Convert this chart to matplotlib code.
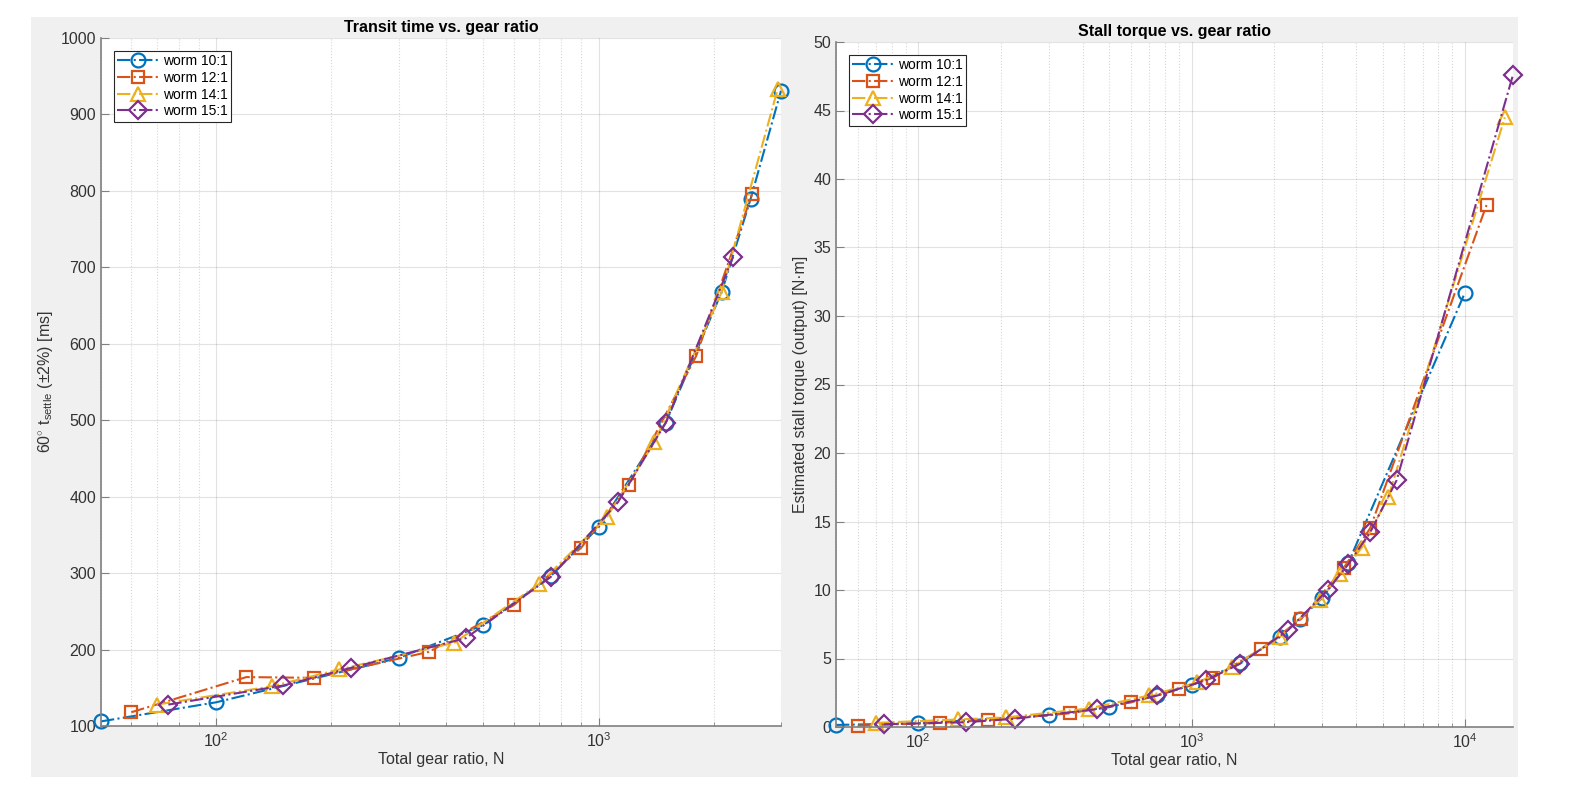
import matplotlib
matplotlib.use('Agg')
import matplotlib.pyplot as plt
from matplotlib.patches import Rectangle
from matplotlib.ticker import LogLocator, LogFormatterMathtext, NullFormatter

plt.rcParams['font.family'] = ['Liberation Sans', 'DejaVu Sans']
plt.rcParams['mathtext.fontset'] = 'custom'
plt.rcParams['mathtext.rm'] = 'Liberation Sans'
plt.rcParams['mathtext.it'] = 'Liberation Sans'

labels = ['worm 10:1', 'worm 12:1', 'worm 14:1', 'worm 15:1']
colors = ['#0072BD', '#D95319', '#EDB120', '#7E2F8E']
markers = ['o', 's', '^', 'D']

# transit time (left panel)
n10_t = [50, 100, 300, 500, 750, 1000, 1500, 2100, 2500, 3000]
t10 = [106, 131, 189, 232, 296, 360, 497, 668, 790, 931]
n12_t = [60, 120, 180, 360, 600, 900, 1200, 1800, 2520]
t12 = [118, 164, 163, 197, 258, 333, 415, 584, 796]
n14_t = [70, 140, 210, 420, 700, 1050, 1400, 2100, 2940]
t14 = [128, 152, 174, 209, 286, 373, 471, 668, 933]
n15_t = [75, 150, 225, 450, 750, 1125, 1500, 2250]
t15 = [128, 153, 176, 215, 295, 393, 497, 714]

# stall torque (right panel)
n10_s = [50, 100, 300, 500, 750, 1000, 1500, 2100, 2500, 3000, 3750, 10000]
s10 = [0.15, 0.27, 0.85, 1.45, 2.3, 3.05, 4.65, 6.55, 7.9, 9.4, 12.0, 31.7]
n12_s = [60, 120, 180, 360, 600, 900, 1200, 1800, 2520, 3600, 4500, 12000]
s12 = [0.1, 0.3, 0.5, 1.0, 1.8, 2.8, 3.6, 5.7, 7.9, 11.6, 14.5, 38.1]
n14_s = [70, 140, 210, 420, 700, 1050, 1400, 2100, 2940, 3500, 4200, 5250, 14000]
s14 = [0.3, 0.55, 0.7, 1.35, 2.3, 3.25, 4.35, 6.55, 9.25, 11.2, 13.1, 16.8, 44.5]
n15_s = [75, 150, 225, 450, 750, 1125, 1500, 2250, 3150, 3750, 4500, 5625, 15000]
s15 = [0.2, 0.35, 0.6, 1.3, 2.3, 3.4, 4.6, 7.05, 10.0, 11.9, 14.2, 18.0, 47.6]

W, H = 1571, 786
fig = plt.figure(figsize=(W / 100, H / 100), dpi=100, facecolor='white')
fig.patches.append(Rectangle((31 / W, 9 / H), 1487 / W, 760 / H, transform=fig.transFigure,
                             facecolor='#f0f0f0', edgecolor='none', zorder=-10))

def style(ax, xlim, ylim, ystep):
    ax.set_xscale('log')
    ax.set_xlim(*xlim)
    ax.set_ylim(*ylim)
    ax.set_yticks(range(ylim[0], ylim[1] + 1, ystep))
    ax.xaxis.set_major_locator(LogLocator(base=10))
    ax.xaxis.set_major_formatter(LogFormatterMathtext())
    ax.xaxis.set_minor_locator(LogLocator(base=10, subs=range(2, 10)))
    ax.xaxis.set_minor_formatter(NullFormatter())
    ax.grid(True, which='major', color='#262626', alpha=0.13, linewidth=0.8)
    ax.grid(True, which='minor', axis='x', color='#262626', alpha=0.18, linestyle=':', linewidth=0.8)
    ax.set_axisbelow(True)
    for s in ['top', 'right']:
        ax.spines[s].set_visible(False)
    for s in ['left', 'bottom']:
        ax.spines[s].set_color('#808080')
        ax.spines[s].set_linewidth(1.2)
    ax.tick_params(which='both', direction='in', colors='#808080', labelcolor='#333333',
                   labelsize=11.5, top=False, right=False)
    ax.tick_params(which='major', length=6)
    ax.tick_params(which='minor', length=3)

def draw(ax, xs, ys):
    for x, y, c, m, lab in zip(xs, ys, colors, markers, labels):
        ms = 10 if m in ('o', '^') else 9
        ax.plot(x, y, linestyle='-.', color=c, marker=m, markersize=ms, markerfacecolor='none',
                markeredgewidth=1.6, linewidth=1.5, label=lab, clip_on=False)
    leg = ax.legend(loc='upper left', fontsize=10, handlelength=3.0, fancybox=False,
                    framealpha=1, edgecolor='#262626', borderpad=0.25, labelspacing=0.2,
                    handletextpad=0.3, borderaxespad=0.9)
    leg.get_frame().set_linewidth(0.8)

ax1 = fig.add_axes([101 / W, 60 / H, 680 / W, 688 / H])
draw(ax1, [n10_t, n12_t, n14_t, n15_t], [t10, t12, t14, t15])
style(ax1, (50, 3000), (100, 1000), 100)
ax1.set_title('Transit time vs. gear ratio', fontsize=11.5, fontweight='bold', pad=4)
ax1.set_xlabel('Total gear ratio, N', fontsize=11.5, color='#333333', labelpad=2)
ax1.set_ylabel(r'60$^{\circ}$ t$_{\mathrm{settle}}$ (±2%) [ms]', fontsize=11.5, color='#333333')

ax2 = fig.add_axes([836 / W, 59 / H, 677 / W, 685 / H])
draw(ax2, [n10_s, n12_s, n14_s, n15_s], [s10, s12, s14, s15])
style(ax2, (50, 15000), (0, 50), 5)
ax2.set_title('Stall torque vs. gear ratio', fontsize=11.5, fontweight='bold', pad=4)
ax2.set_xlabel('Total gear ratio, N', fontsize=11.5, color='#333333', labelpad=2)
ax2.set_ylabel('Estimated stall torque (output) [N·m]', fontsize=11.5, color='#333333')

fig.savefig('out.png', dpi=100)
